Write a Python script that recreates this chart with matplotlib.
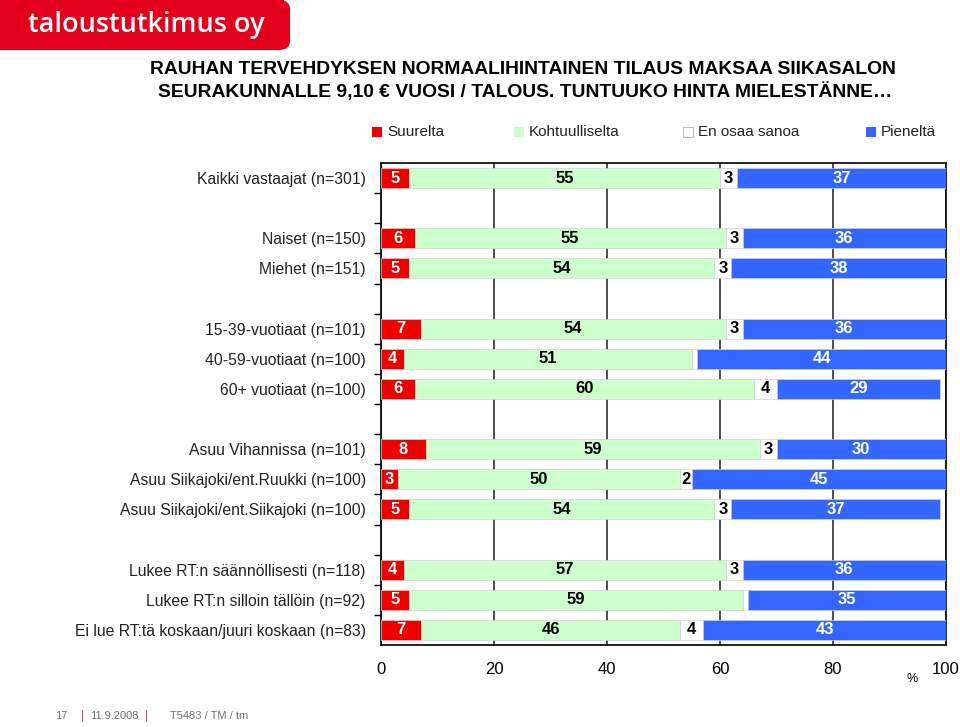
import matplotlib
matplotlib.use("Agg")
import matplotlib.pyplot as plt
from matplotlib.patches import FancyBboxPatch, Rectangle

plt.rcParams['font.family'] = ['Liberation Sans', 'DejaVu Sans']

categories = [
    "Kaikki vastaajat (n=301)",
    "Naiset (n=150)",
    "Miehet (n=151)",
    "15-39-vuotiaat (n=101)",
    "40-59-vuotiaat (n=100)",
    "60+ vuotiaat (n=100)",
    "Asuu Vihannissa (n=101)",
    "Asuu Siikajoki/ent.Ruukki (n=100)",
    "Asuu Siikajoki/ent.Siikajoki (n=100)",
    "Lukee RT:n säännöllisesti (n=118)",
    "Lukee RT:n silloin tällöin (n=92)",
    "Ei lue RT:tä koskaan/juuri koskaan (n=83)",
]
# slot index of each category (empty slots separate groups)
slots = [0, 2, 3, 5, 6, 7, 9, 10, 11, 13, 14, 15]

suurelta = [5, 6, 5, 7, 4, 6, 8, 3, 5, 4, 5, 7]
kohtuulliselta = [55, 55, 54, 54, 51, 60, 59, 50, 54, 57, 59, 46]
en_osaa = [3, 3, 3, 3, 1, 4, 3, 2, 3, 3, 1, 4]
pienelta = [37, 36, 38, 36, 44, 29, 30, 45, 37, 36, 35, 43]
# values shown as labels (None = not labelled)
en_osaa_labels = [3, 3, 3, 3, None, 4, 3, 2, 3, 3, None, 4]

series_names = ["Suurelta", "Kohtuulliselta", "En osaa sanoa", "Pieneltä"]
colors = ["#EE0000", "#CCFFCC", "#FFFFFF", "#3366FF"]
text_colors = ["white", "black", "black", "white"]
x_ticks = [0, 20, 40, 60, 80, 100]

fig = plt.figure(figsize=(9.6, 7.27), dpi=100)

# Logo
logo = FancyBboxPatch((0, 1 - 50/727), 290/960, 50/727, boxstyle="round,pad=0,rounding_size=0.012",
                      transform=fig.transFigure, facecolor="#E3001B", edgecolor="none")
fig.patches.append(logo)
fig.add_artist(Rectangle((0, 1 - 50/727), 0.15, 50/727, transform=fig.transFigure,
                         facecolor="#E3001B", edgecolor="none"))
fig.add_artist(Rectangle((0.15, 1 - 25/727), 140/960, 25/727, transform=fig.transFigure,
                         facecolor="#E3001B", edgecolor="none"))
fig.text(28/960, 1 - 25/727, "taloustutkimus oy", color="white", fontsize=19.5,
         fontweight="semibold", family=["Open Sans", "DejaVu Sans"], va="center", ha="left")

# Title
fig.text(523/960, 1 - 70/727, "RAUHAN TERVEHDYKSEN NORMAALIHINTAINEN TILAUS MAKSAA SIIKASALON",
         ha="center", va="center", fontsize=13.9, fontweight="bold")
fig.text(525/960, 1 - 92/727, "SEURAKUNNALLE 9,10 € VUOSI / TALOUS. TUNTUUKO HINTA MIELESTÄNNE…",
         ha="center", va="center", fontsize=13.9, fontweight="bold")

# Legend (manual)
leg_x = [372, 514, 683, 866]
for i, name in enumerate(series_names):
    fig.add_artist(Rectangle((leg_x[i]/960, 1 - 137/727), 10/960, 10/727, transform=fig.transFigure,
                             facecolor=colors[i], edgecolor="#B0B0B0" if i == 2 else "none", lw=0.6))
    fig.text((leg_x[i] + 15)/960, 1 - 132/727, name, ha="left", va="center", fontsize=11, color="#222222")

ax = fig.add_axes([381/960, 1 - 645/727, 565/960, 482/727])

data = [suurelta, kohtuulliselta, en_osaa, pienelta]
lefts = [0] * len(categories)
for s in range(4):
    vals = data[s]
    ax.barh(slots, vals, left=lefts, height=0.66, color=colors[s], edgecolor="#D0D0D0",
            linewidth=0.5, zorder=3)
    for j in range(len(categories)):
        lab = vals[j] if s != 2 else en_osaa_labels[j]
        if lab is not None:
            ax.text(lefts[j] + vals[j] / 2, slots[j], str(lab), ha="center", va="center",
                    fontsize=12, fontweight="bold", color=text_colors[s], zorder=4)
    lefts = [lefts[j] + vals[j] for j in range(len(categories))]

ax.set_xlim(0, 100)
ax.set_ylim(15.5, -0.5)
ax.set_xticks(x_ticks)
ax.set_xticklabels([str(t) for t in x_ticks], fontsize=12)
ax.tick_params(axis="x", length=0, pad=12)
ax.xaxis.grid(True, color="#404040", linewidth=1.3, zorder=1)
ax.set_axisbelow(True)

ax.set_yticks([k + 0.5 for k in range(15)])
ax.set_yticklabels([])
ax.tick_params(axis="y", which="major", direction="out", length=5, width=1, color="black")
ax.set_yticks(slots, minor=True)
ax.set_yticklabels(categories, minor=True, fontsize=11.3, color="#222222")
ax.tick_params(axis="y", which="minor", length=0, pad=11)

for sp in ax.spines.values():
    sp.set_color("black")
    sp.set_linewidth(1.2)

fig.text(912/960, 1 - 679/727, "%", ha="center", va="center", fontsize=9)

# Footer
fig.text(61/960, 1 - 716/727, "17", fontsize=8, color="#707070", ha="center", va="center")
fig.text(82/960, 1 - 716/727, "|", fontsize=9, color="#C8304A", ha="center", va="center")
fig.text(90/960, 1 - 716/727, "11.9.2008", fontsize=8, color="#707070", ha="left", va="center")
fig.text(147/960, 1 - 716/727, "|", fontsize=9, color="#C8304A", ha="center", va="center")
fig.text(170/960, 1 - 716/727, "T5483 / TM / tm", fontsize=8, color="#707070", ha="left", va="center")

fig.savefig("out.png", dpi=100)
